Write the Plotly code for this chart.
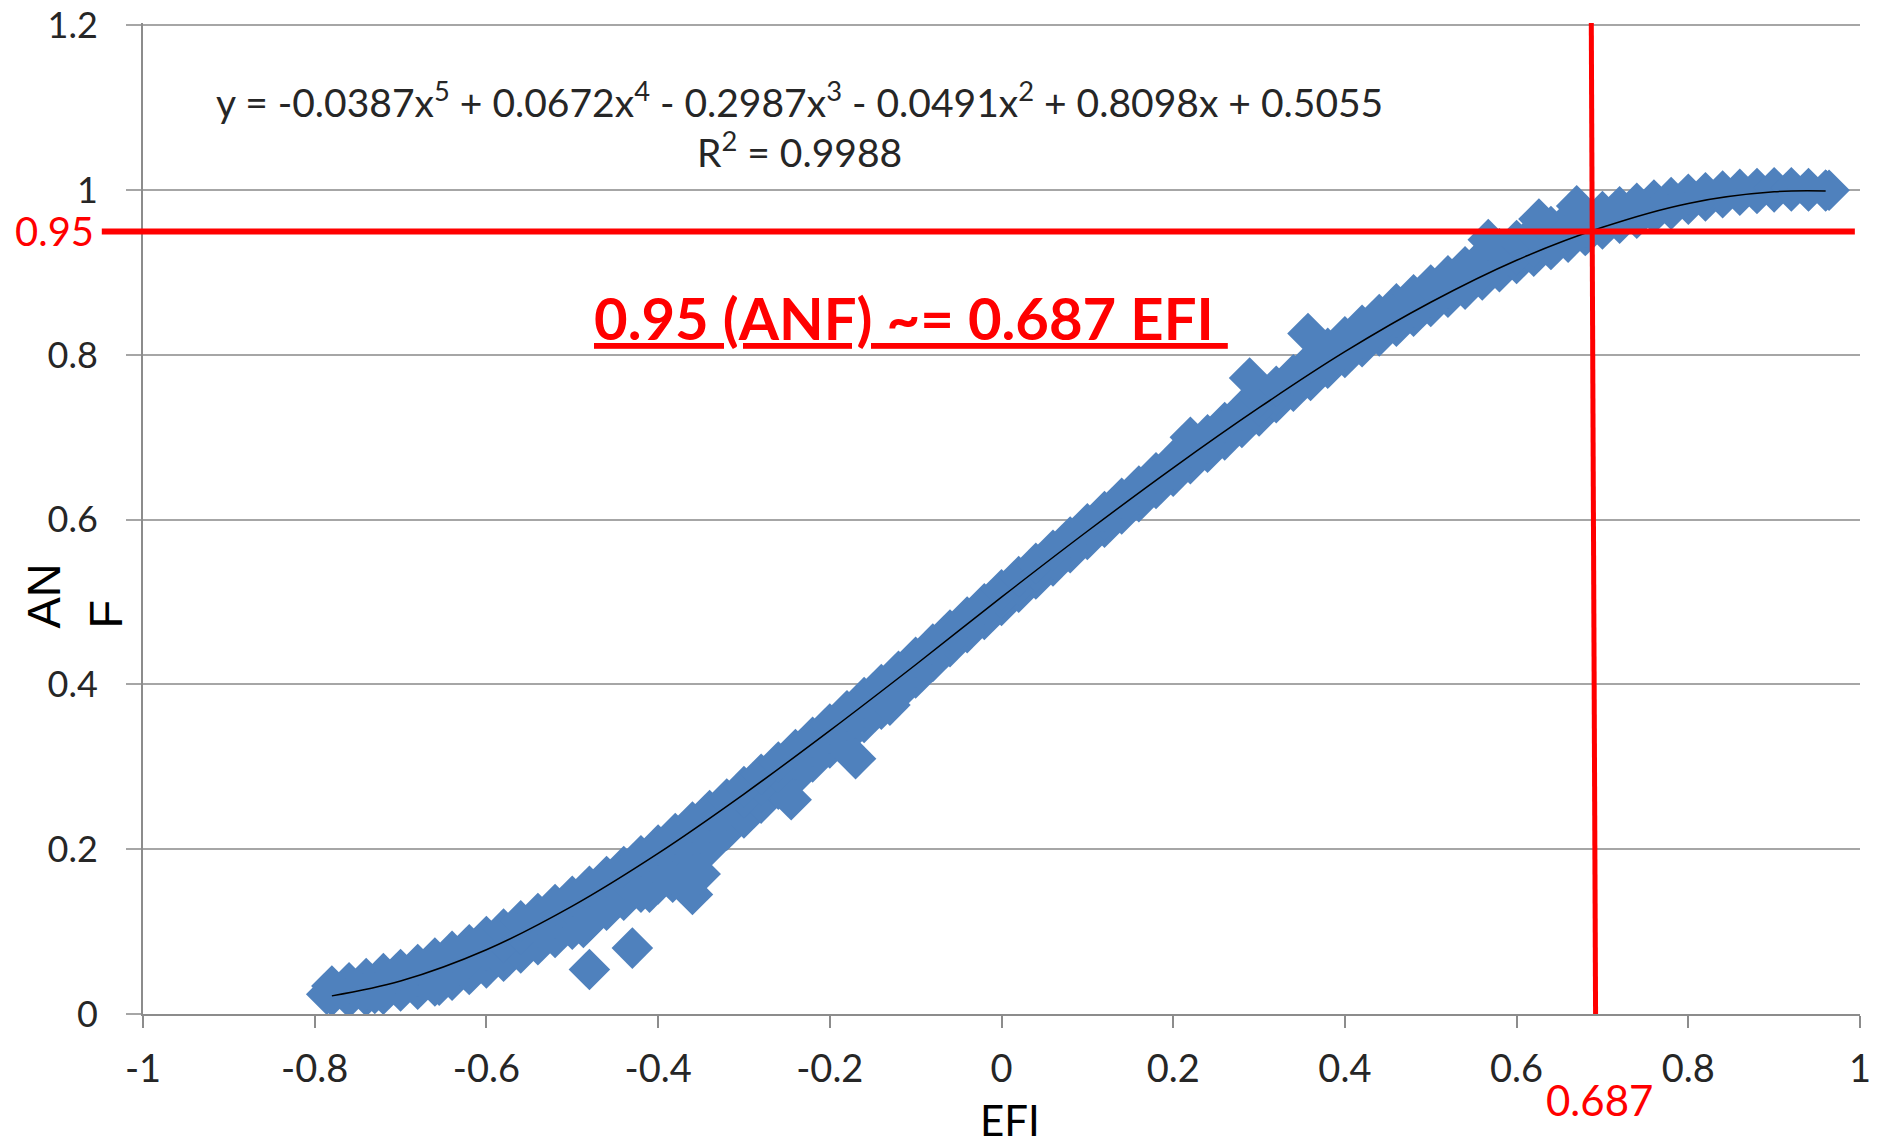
import plotly.graph_objects as go

# ---------------- data ----------------
efi_band = [-0.78, -0.76, -0.74, -0.72, -0.70, -0.68, -0.66, -0.64, -0.62, -0.60,
            -0.58, -0.56, -0.54, -0.52, -0.50, -0.48, -0.46, -0.44, -0.42, -0.40,
            -0.38, -0.36, -0.34, -0.32, -0.30, -0.28, -0.26, -0.24, -0.22, -0.20,
            -0.18, -0.16, -0.14, -0.12, -0.10, -0.08, -0.06, -0.04, -0.02, 0.00,
            0.02, 0.04, 0.06, 0.08, 0.10, 0.12, 0.14, 0.16, 0.18, 0.20,
            0.22, 0.24, 0.26, 0.28, 0.30, 0.32, 0.34, 0.36, 0.38, 0.40,
            0.42, 0.44, 0.46, 0.48, 0.50, 0.52, 0.54, 0.56, 0.58, 0.60,
            0.62, 0.64, 0.66, 0.68, 0.70, 0.72, 0.74, 0.76, 0.78, 0.80,
            0.82, 0.84, 0.86, 0.88, 0.90, 0.92, 0.94, 0.96]

anf_upper = [0.034, 0.038, 0.043, 0.049, 0.054, 0.060, 0.068, 0.076, 0.084, 0.094,
             0.103, 0.113, 0.122, 0.133, 0.143, 0.155, 0.167, 0.179, 0.192, 0.205,
             0.219, 0.233, 0.247, 0.261, 0.276, 0.291, 0.306, 0.321, 0.336, 0.352,
             0.368, 0.384, 0.400, 0.416, 0.433, 0.449, 0.466, 0.482, 0.498, 0.515,
             0.531, 0.547, 0.563, 0.579, 0.595, 0.610, 0.626, 0.641, 0.657, 0.672,
             0.688, 0.703, 0.718, 0.733, 0.748, 0.762, 0.776, 0.792, 0.808, 0.822,
             0.836, 0.849, 0.862, 0.873, 0.885, 0.896, 0.907, 0.918, 0.929, 0.939,
             0.948, 0.956, 0.963, 0.969, 0.974, 0.980, 0.984, 0.988, 0.991, 0.995,
             0.997, 0.999, 1.001, 1.002, 1.003, 1.003, 1.002, 1.000]

anf_mid = [0.024, 0.026, 0.030, 0.034, 0.040, 0.046, 0.052, 0.060, 0.068, 0.077,
           0.087, 0.097, 0.106, 0.117, 0.128, 0.140, 0.152, 0.164, 0.177, 0.190,
           0.204, 0.218, 0.233, 0.248, 0.263, 0.278, 0.293, 0.309, 0.325, 0.341,
           0.357, 0.373, 0.389, 0.405, 0.421, 0.438, 0.455, 0.471, 0.488, 0.505,
           0.521, 0.537, 0.553, 0.569, 0.585, 0.600, 0.616, 0.631, 0.647, 0.662,
           0.678, 0.693, 0.708, 0.723, 0.738, 0.752, 0.766, 0.780, 0.794, 0.808,
           0.821, 0.834, 0.846, 0.858, 0.870, 0.881, 0.891, 0.902, 0.912, 0.922,
           0.931, 0.939, 0.947, 0.955, 0.961, 0.968, 0.973, 0.979, 0.984, 0.988,
           0.992, 0.995, 0.997, 0.999, 1.000, 1.001, 1.000, 1.000]

anf_lower = [0.022, 0.020, 0.022, 0.024, 0.028, 0.030, 0.034, 0.041, 0.048, 0.056,
             0.064, 0.074, 0.084, 0.093, 0.103, 0.113, 0.126, 0.138, 0.148, 0.158,
             0.173, 0.188, 0.203, 0.223, 0.238, 0.256, 0.273, 0.288, 0.306, 0.323,
             0.338, 0.354, 0.370, 0.390, 0.408, 0.428, 0.446, 0.463, 0.479, 0.496,
             0.512, 0.528, 0.544, 0.560, 0.576, 0.591, 0.607, 0.622, 0.638, 0.653,
             0.668, 0.682, 0.697, 0.712, 0.726, 0.742, 0.756, 0.769, 0.784, 0.797,
             0.810, 0.823, 0.835, 0.847, 0.859, 0.870, 0.880, 0.891, 0.901, 0.911,
             0.920, 0.928, 0.937, 0.945, 0.953, 0.960, 0.966, 0.972, 0.977, 0.983,
             0.987, 0.991, 0.994, 0.996, 0.998, 0.999, 0.999, 0.999]

# isolated / protruding points
efi_extra = [-0.786, -0.73, -0.655, -0.487, -0.48, -0.43, -0.41, -0.383, -0.36, -0.351,
             -0.245, -0.17, -0.13, 0.22, 0.289, 0.357, 0.567, 0.626, 0.670, 0.964]
anf_extra = [0.024, 0.025, 0.035, 0.105, 0.054, 0.080, 0.148, 0.160, 0.145, 0.170,
             0.260, 0.310, 0.375, 0.700, 0.772, 0.826, 0.940, 0.965, 0.981, 1.000]

# polynomial trend line (as drawn)
efi_trend = [-0.78, -0.70, -0.60, -0.50, -0.40, -0.30, -0.20, -0.10, 0.00, 0.10,
             0.20, 0.30, 0.40, 0.50, 0.60, 0.70, 0.80, 0.90, 0.96]
anf_trend = [0.022, 0.040, 0.078, 0.131, 0.195, 0.267, 0.344, 0.424, 0.506, 0.586,
             0.663, 0.736, 0.804, 0.864, 0.915, 0.955, 0.984, 0.998, 0.999]

x_tickvals = [-1, -0.8, -0.6, -0.4, -0.2, 0, 0.2, 0.4, 0.6, 0.8, 1]
x_ticktext = ["-1", "-0.8", "-0.6", "-0.4", "-0.2", "0", "0.2", "0.4", "0.6", "0.8", "1"]
y_tickvals = [0, 0.2, 0.4, 0.6, 0.8, 1.0, 1.2]
y_ticktext = ["0", "0.2", "0.4", "0.6", "0.8", "1", "1.2"]

threshold_anf = 0.95
threshold_efi = 0.687

equation_text = ("y = -0.0387x<sup>5</sup> + 0.0672x<sup>4</sup> - 0.2987x<sup>3</sup>"
                 " - 0.0491x<sup>2</sup> + 0.8098x + 0.5055")
r2_text = "R<sup>2</sup> = 0.9988"
headline_text = "<b><u>0.95 (ANF) ~= 0.687 EFI\u00a0</u></b>"

# ---------------- figure ----------------
TEXT = "#262626"
GRID = "#a6a6a6"
AXIS = "#8c8c8c"
RED = "#ff0000"
FONT = "Lato"

fig = go.Figure()
fig.add_trace(go.Scatter(
    x=efi_band + efi_band + efi_band + efi_extra,
    y=anf_lower + anf_mid + anf_upper + anf_extra,
    mode="markers",
    marker=dict(symbol="diamond", size=32, color="#4F81BD", line=dict(width=0)),
    showlegend=False, hoverinfo="skip"))
fig.add_trace(go.Scatter(
    x=efi_trend, y=anf_trend, mode="lines",
    line=dict(color="black", width=1.5, shape="spline"),
    showlegend=False, hoverinfo="skip"))

fig.update_layout(
    width=1882, height=1145,
    margin=dict(l=143, r=22, t=23, b=131, autoexpand=False),
    paper_bgcolor="white", plot_bgcolor="white",
    font=dict(family=FONT, color=TEXT),
)
fig.update_xaxes(
    range=[-1, 1], tickvals=x_tickvals, ticktext=x_ticktext,
    showgrid=False, zeroline=False, automargin=False,
    showline=True, linecolor=AXIS, linewidth=2,
    ticks="outside", ticklen=12, tickwidth=2, tickcolor=AXIS,
    tickfont=dict(family=FONT, size=38, color=TEXT), ticklabelstandoff=8,
    ticklabeloverflow="allow")
fig.update_yaxes(
    range=[0, 1.203], tickvals=y_tickvals, ticktext=y_ticktext,
    showgrid=True, gridcolor=GRID, gridwidth=2, zeroline=False, automargin=False,
    showline=True, linecolor=AXIS, linewidth=2,
    ticks="outside", ticklen=15, tickwidth=2, tickcolor=GRID,
    tickfont=dict(family=FONT, size=36, color=TEXT), ticklabelstandoff=21,
    ticklabeloverflow="allow")

# red threshold lines
fig.add_shape(type="line", xref="paper", yref="y", x0=-0.024, x1=0.997,
              y0=threshold_anf, y1=threshold_anf, line=dict(color=RED, width=6))
fig.add_shape(type="line", xref="x", yref="paper", x0=threshold_efi + 0.005, y0=0,
              x1=threshold_efi, y1=1.0, line=dict(color=RED, width=5))

ann = []
ann.append(dict(x=-0.235, y=1.110, xref="x", yref="y", text=equation_text, showarrow=False,
                font=dict(family=FONT, size=39, color=TEXT), xanchor="center", yanchor="middle"))
ann.append(dict(x=-0.235, y=1.0496, xref="x", yref="y", text=r2_text, showarrow=False,
                font=dict(family=FONT, size=39, color=TEXT), xanchor="center", yanchor="middle"))
ann.append(dict(x=-0.1054, y=0.846, xref="x", yref="y", text=headline_text, showarrow=False,
                font=dict(family=FONT, size=58, color=RED), xanchor="center", yanchor="middle"))
ann.append(dict(x=-0.0274, y=threshold_anf, xref="paper", yref="y", text="0.95", showarrow=False,
                font=dict(family=FONT, size=40, color=RED), xanchor="right", yanchor="middle"))
ann.append(dict(x=0.697, y=-0.0868, xref="x", yref="paper", text="0.687", showarrow=False,
                font=dict(family=FONT, size=42, color=RED), xanchor="center", yanchor="middle"))
ann.append(dict(x=0.01, y=-0.1070, xref="x", yref="paper", text="EFI", showarrow=False,
                font=dict(family=FONT, size=42, color="black"), xanchor="center", yanchor="middle"))
ann.append(dict(x=-0.0402, y=0.508, xref="paper", yref="y", text="AN<br>F", showarrow=False,
                textangle=-90, align="left",
                font=dict(family="Liberation Sans", size=47, color="black"),
                xanchor="center", yanchor="middle"))
fig.update_layout(annotations=ann)

fig.write_html("out.html", config={"displayModeBar": False},
               post_script="document.body.style.margin='0';")
